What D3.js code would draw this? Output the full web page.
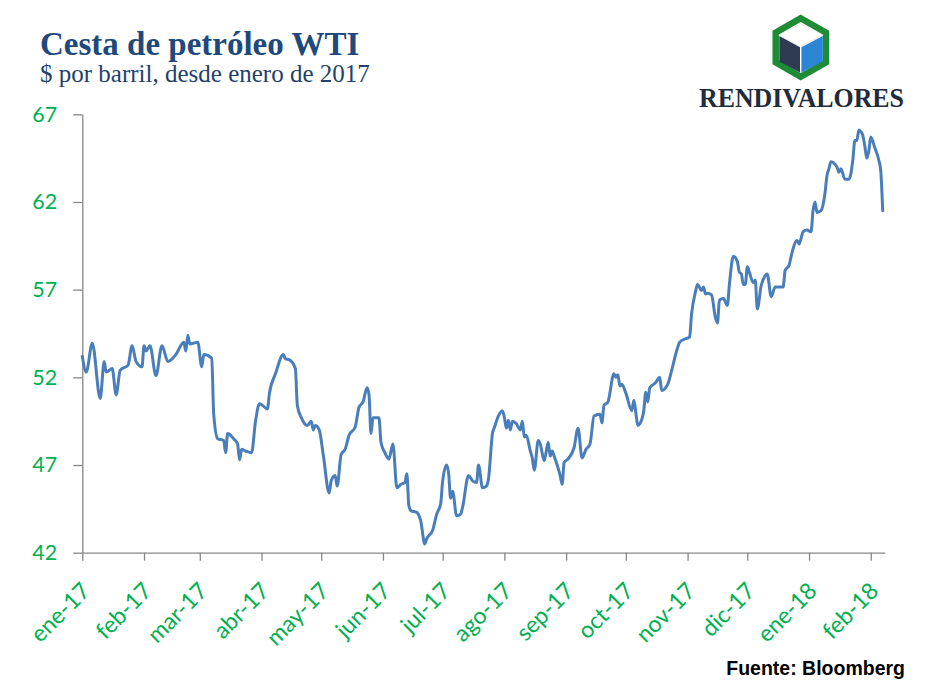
<!DOCTYPE html>
<html>
<head>
<meta charset="utf-8">
<script src="https://cdn.jsdelivr.net/npm/d3@7"></script>
<style>
  html, body { margin: 0; padding: 0; background: #ffffff; }
  svg { display: block; }
</style>
</head>
<body>
<svg id="chart" width="939" height="690"></svg>
<script>
// ---------------- DATA ----------------
const title = "Cesta de petróleo WTI";
const subtitle = "$ por barril, desde enero de 2017";
const source = "Fuente: Bloomberg";
const brand = "RENDIVALORES";

const dates = [
  "2017-01-01","2017-01-03","2017-01-06","2017-01-10","2017-01-12","2017-01-13","2017-01-16","2017-01-18","2017-01-20","2017-01-24",
  "2017-01-26","2017-01-28","2017-01-31","2017-02-01","2017-02-02","2017-02-04","2017-02-07","2017-02-10","2017-02-13","2017-02-17",
  "2017-02-21","2017-02-22","2017-02-23","2017-02-24","2017-02-28","2017-03-02","2017-03-03","2017-03-07","2017-03-08","2017-03-10",
  "2017-03-13","2017-03-14","2017-03-15","2017-03-18","2017-03-20","2017-03-21","2017-03-22","2017-03-24","2017-03-27","2017-03-29",
  "2017-03-31","2017-04-04","2017-04-05","2017-04-08","2017-04-12","2017-04-13","2017-04-15","2017-04-18","2017-04-19","2017-04-21",
  "2017-04-24","2017-04-26","2017-04-27","2017-04-28","2017-04-30","2017-05-02","2017-05-05","2017-05-06","2017-05-08","2017-05-09",
  "2017-05-11","2017-05-13","2017-05-15","2017-05-18","2017-05-20","2017-05-22","2017-05-24","2017-05-25","2017-05-26","2017-05-27",
  "2017-05-30","2017-05-31","2017-06-02","2017-06-04","2017-06-06","2017-06-08","2017-06-10","2017-06-12","2017-06-13","2017-06-14",
  "2017-06-15","2017-06-18","2017-06-20","2017-06-22","2017-06-23","2017-06-26","2017-06-28","2017-06-30","2017-07-01","2017-07-03",
  "2017-07-04","2017-07-05","2017-07-06","2017-07-08","2017-07-10","2017-07-11","2017-07-14","2017-07-16","2017-07-18","2017-07-19",
  "2017-07-21","2017-07-23","2017-07-24","2017-07-26","2017-07-27","2017-07-29","2017-07-31","2017-08-01","2017-08-02","2017-08-03",
  "2017-08-04","2017-08-05","2017-08-07","2017-08-09","2017-08-10","2017-08-11","2017-08-12","2017-08-14","2017-08-15","2017-08-16",
  "2017-08-18","2017-08-19","2017-08-21","2017-08-23","2017-08-24","2017-08-25","2017-08-26","2017-08-29","2017-08-30","2017-08-31",
  "2017-09-02","2017-09-05","2017-09-07","2017-09-09","2017-09-11","2017-09-13","2017-09-15","2017-09-18","2017-09-19","2017-09-20",
  "2017-09-22","2017-09-25","2017-09-26","2017-09-27","2017-09-28","2017-09-29","2017-10-01","2017-10-04","2017-10-05","2017-10-06",
  "2017-10-07","2017-10-08","2017-10-10","2017-10-11","2017-10-12","2017-10-13","2017-10-16","2017-10-18","2017-10-19","2017-10-22",
  "2017-10-24","2017-10-27","2017-10-28","2017-10-31","2017-11-02","2017-11-03","2017-11-05","2017-11-06","2017-11-08","2017-11-09",
  "2017-11-10","2017-11-11","2017-11-13","2017-11-15","2017-11-16","2017-11-17","2017-11-19","2017-11-21","2017-11-22","2017-11-24",
  "2017-11-26","2017-11-27","2017-11-28","2017-11-29","2017-11-30","2017-12-01","2017-12-02","2017-12-04","2017-12-05","2017-12-06",
  "2017-12-08","2017-12-10","2017-12-11","2017-12-13","2017-12-15","2017-12-19","2017-12-20","2017-12-22","2017-12-23","2017-12-26",
  "2017-12-27","2017-12-29","2017-12-31","2018-01-02","2018-01-03","2018-01-04","2018-01-05","2018-01-07","2018-01-09","2018-01-10",
  "2018-01-11","2018-01-12","2018-01-15","2018-01-16","2018-01-17","2018-01-19","2018-01-21","2018-01-22","2018-01-23","2018-01-24",
  "2018-01-25","2018-01-26","2018-01-27","2018-01-28","2018-01-29","2018-01-30","2018-01-31","2018-02-01","2018-02-03","2018-02-05",
  "2018-02-06","2018-02-07"
];

const prices = [
  53.2,52.3,53.95,50.8,52.9,52.3,52.5,51.0,52.4,52.7,
  53.8,52.9,52.6,53.8,53.5,53.8,52.1,53.8,52.9,53.3,
  54.0,53.5,54.4,53.9,54.0,52.6,53.3,53.1,49.9,48.5,
  48.4,47.7,48.8,48.5,48.2,47.3,47.9,47.8,47.7,49.5,
  50.5,50.2,51.1,52.2,53.3,53.05,53.0,52.5,50.4,49.7,
  49.25,49.5,49.0,49.25,49.0,47.6,45.4,46.1,46.4,45.8,
  47.6,47.9,48.7,49.15,50.3,50.6,51.4,51.0,48.8,49.7,
  49.7,48.3,47.7,47.35,48.2,45.7,45.9,46.0,46.5,44.7,
  44.4,44.3,43.8,42.5,42.8,43.3,44.2,44.8,46.1,47.0,
  46.5,45.1,45.5,44.1,44.2,44.6,46.4,46.1,46.0,47.0,
  45.7,45.8,46.2,48.8,49.15,49.8,50.1,49.7,49.1,49.55,
  49.0,49.5,49.35,49.0,49.5,48.6,48.7,47.8,47.4,46.7,
  48.4,48.2,47.25,48.3,47.5,47.8,47.5,46.4,45.9,47.15,
  47.35,48.0,49.1,47.4,47.9,48.2,49.8,49.9,49.4,50.4,
  50.6,52.2,52.0,52.15,51.5,51.6,51.1,50.1,50.7,50.0,
  49.25,49.35,50.1,51.15,50.6,51.4,51.7,52.0,51.25,51.6,
  52.4,53.7,54.0,54.2,54.3,55.6,56.9,57.3,56.95,57.15,
  56.75,56.8,56.7,55.4,55.1,56.4,56.5,56.1,57.3,58.9,
  58.6,58.0,57.9,57.3,57.3,58.3,58.0,57.4,57.55,55.9,
  57.25,57.8,57.9,56.6,57.15,57.15,58.1,58.4,58.9,59.8,
  59.6,60.3,60.4,60.3,61.5,62.0,61.4,61.5,62.5,63.5,
  63.9,64.3,64.0,63.7,63.9,63.3,63.3,63.6,64.4,65.5,
  65.5,66.1,66.0,65.8,65.2,64.5,64.9,65.7,65.1,64.4,
  63.8,61.5
];

const tickDates = [
  "2017-01-01","2017-02-01","2017-03-01","2017-04-01","2017-05-01","2017-06-01","2017-07-01",
  "2017-08-01","2017-09-01","2017-10-01","2017-11-01","2017-12-01","2018-01-01","2018-02-01"
];
const tickLabels = [
  "ene-17","feb-17","mar-17","abr-17","may-17","jun-17","jul-17",
  "ago-17","sep-17","oct-17","nov-17","dic-17","ene-18","feb-18"
];
const yTicks = [42, 47, 52, 57, 62, 67];
const xDomain = ["2017-01-01", "2018-02-08"];

// ---------------- DRAW ----------------
const parse = d3.timeParse("%Y-%m-%d");
const series = dates.map((d, i) => ({ date: parse(d), value: prices[i] }));

const svg = d3.select("#chart");
svg.append("rect").attr("width", 939).attr("height", 690).attr("fill", "#ffffff");

const x = d3.scaleTime().domain(xDomain.map(parse)).range([82.3, 884.7]);
const y = d3.scaleLinear().domain([42, 67]).range([552.7, 114.3]);

const axisColor = "#878787";
const green = "#00B050";

// Y axis
const gy = svg.append("g")
  .attr("transform", "translate(82.3,0)")
  .call(d3.axisLeft(y).tickValues(yTicks).tickSize(9).tickSizeOuter(0).tickPadding(16).tickFormat(d3.format("d")));
gy.select(".domain").attr("stroke", axisColor).attr("stroke-width", 1.3);
gy.selectAll(".tick line").attr("stroke", axisColor).attr("stroke-width", 1.3);
gy.selectAll(".tick text")
  .attr("fill", green)
  .style("font-family", "Lato, 'Open Sans', sans-serif")
  .style("font-size", "21.5px");

// X axis
const gx = svg.append("g")
  .attr("transform", "translate(0,552.7)")
  .call(d3.axisBottom(x).tickValues(tickDates.map(parse)).tickSize(8).tickSizeOuter(0)
        .tickFormat((d, i) => tickLabels[i]));
gx.select(".domain").attr("stroke", axisColor).attr("stroke-width", 1.3);
gx.selectAll(".tick line").attr("stroke", axisColor).attr("stroke-width", 1.3);
gx.selectAll(".tick text")
  .attr("fill", green)
  .attr("x", 0).attr("y", 0).attr("dy", "0.72em")
  .attr("text-anchor", "end")
  .attr("transform", "translate(-3,28) rotate(-45)")
  .style("font-family", "Lato, 'Open Sans', sans-serif")
  .style("font-size", "23px");

// Line
const line = d3.line()
  .x(d => x(d.date))
  .y(d => y(d.value))
  .curve(d3.curveMonotoneX);

svg.append("path")
  .datum(series)
  .attr("fill", "none")
  .attr("stroke", "#4a7ebb")
  .attr("stroke-width", 3)
  .attr("stroke-linejoin", "round")
  .attr("stroke-linecap", "round")
  .attr("d", line);

// Titles
svg.append("text")
  .attr("x", 40).attr("y", 55)
  .attr("fill", "#1f497d")
  .style("font-family", "'Liberation Serif', 'Times New Roman', serif")
  .style("font-weight", "bold")
  .style("font-size", "33px")
  .text(title);

svg.append("text")
  .attr("x", 40).attr("y", 82)
  .attr("fill", "#243f6b")
  .style("font-family", "'Liberation Serif', 'Times New Roman', serif")
  .style("font-size", "25px")
  .text(subtitle);

// Source
svg.append("text")
  .attr("x", 905).attr("y", 675)
  .attr("text-anchor", "end")
  .attr("fill", "#000000")
  .style("font-family", "'Liberation Sans', Arial, sans-serif")
  .style("font-weight", "bold")
  .style("font-size", "19.5px")
  .text(source);

// Logo
const logo = svg.append("g");
logo.append("polygon")
  .attr("points", "800.7,18.3 826,32.7 826,62.3 800.7,76.7 775.7,62.3 775.7,32.7")
  .attr("fill", "#ffffff")
  .attr("stroke", "#1e8c34")
  .attr("stroke-width", 6.5)
  .attr("stroke-linejoin", "miter");
logo.append("polygon")
  .attr("points", "800.7,23.5 822.8,35 800.7,46.5 778.8,35")
  .attr("fill", "#ffffff")
  .attr("stroke", "#d8dde3")
  .attr("stroke-width", 0.6);
logo.append("polygon")
  .attr("points", "779.3,36 800,47.2 800,72.5 779.3,61.5")
  .attr("fill", "#2e3b52");
logo.append("polygon")
  .attr("points", "801.4,47.2 822.8,36 822.8,61.5 801.4,72.5")
  .attr("fill", "#2b85d3");

logo.append("text")
  .attr("x", 699).attr("y", 106.5)
  .attr("fill", "#222b3b")
  .attr("textLength", 205)
  .attr("lengthAdjust", "spacingAndGlyphs")
  .style("font-family", "'Liberation Serif', 'Times New Roman', serif")
  .style("font-weight", "bold")
  .style("font-size", "27px")
  .text(brand);
</script>
</body>
</html>
